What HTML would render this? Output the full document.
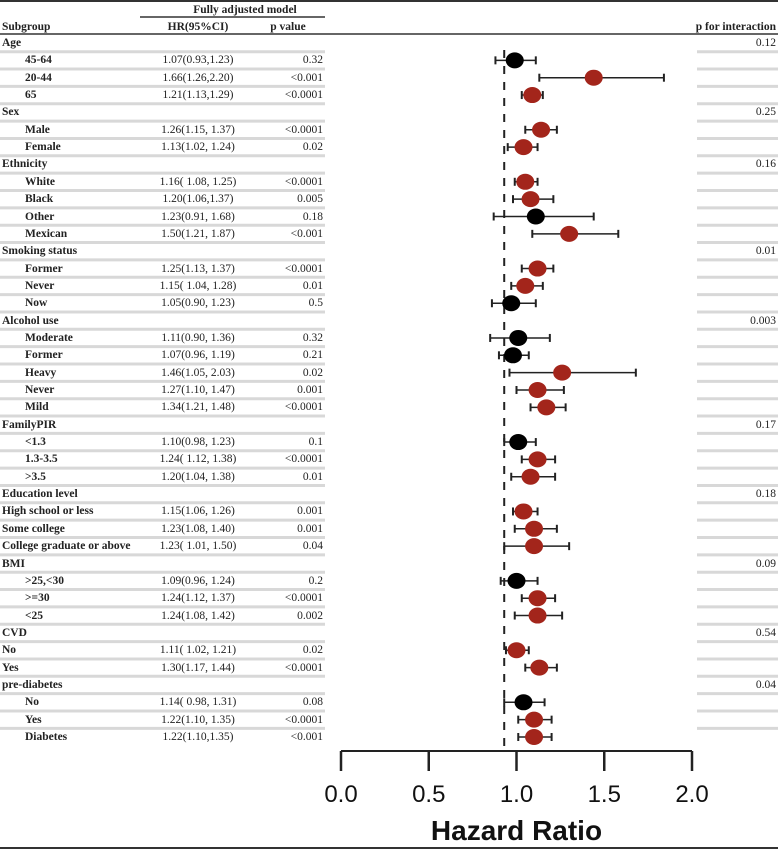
<!DOCTYPE html>
<html><head><meta charset="utf-8">
<style>
html,body{margin:0;padding:0;background:#fff;}
#root{position:relative;width:778px;height:850px;overflow:hidden;font-family:"Liberation Serif",serif;color:#222;}
.t{position:absolute;font-size:11.5px;white-space:nowrap;line-height:14px;}
.b{font-weight:bold;}
</style></head>
<body>
<div id="root">
<svg id="svg" width="778" height="850" style="position:absolute;left:0;top:0"></svg>
</div>
<script>
// ---- data ----
const labels = ["Age","45-64","20-44","65","Sex","Male","Female","Ethnicity","White","Black","Other","Mexican","Smoking status","Former","Never","Now","Alcohol use","Moderate","Former","Heavy","Never","Mild","FamilyPIR","<1.3","1.3-3.5",">3.5","Education level","High school or less","Some college","College graduate or above","BMI",">25,<30",">=30","<25","CVD","No","Yes","pre-diabetes","No","Yes","Diabetes"];
const isHeader = [1,0,0,0,1,0,0,1,0,0,0,0,1,0,0,0,1,0,0,0,0,0,1,0,0,0,1,0,0,0,1,0,0,0,1,0,0,1,0,0,0];
const indent = [0,1,1,1,0,1,1,0,1,1,1,1,0,1,1,1,0,1,1,1,1,1,0,1,1,1,0,0,0,0,0,1,1,1,0,0,0,0,1,1,1];
const hrText = ["","1.07(0.93,1.23)","1.66(1.26,2.20)","1.21(1.13,1.29)","","1.26(1.15, 1.37)","1.13(1.02, 1.24)","","1.16( 1.08, 1.25)","1.20(1.06,1.37)","1.23(0.91, 1.68)","1.50(1.21, 1.87)","","1.25(1.13, 1.37)","1.15( 1.04, 1.28)","1.05(0.90, 1.23)","","1.11(0.90, 1.36)","1.07(0.96, 1.19)","1.46(1.05, 2.03)","1.27(1.10, 1.47)","1.34(1.21, 1.48)","","1.10(0.98, 1.23)","1.24( 1.12, 1.38)","1.20(1.04, 1.38)","","1.15(1.06, 1.26)","1.23(1.08, 1.40)","1.23( 1.01, 1.50)","","1.09(0.96, 1.24)","1.24(1.12, 1.37)","1.24(1.08, 1.42)","","1.11( 1.02, 1.21)","1.30(1.17, 1.44)","","1.14( 0.98, 1.31)","1.22(1.10, 1.35)","1.22(1.10,1.35)"];
const pText = ["","0.32","<0.001","<0.0001","","<0.0001","0.02","","<0.0001","0.005","0.18","<0.001","","<0.0001","0.01","0.5","","0.32","0.21","0.02","0.001","<0.0001","","0.1","<0.0001","0.01","","0.001","0.001","0.04","","0.2","<0.0001","0.002","","0.02","<0.0001","","0.08","<0.0001","<0.001"];
const pInter = ["0.12","","","","0.25","","","0.16","","","","","0.01","","","","0.003","","","","","","0.17","","","","0.18","","","","0.09","","","","0.54","","","0.04","","",""];
const est = [null,0.99,1.44,1.09,null,1.14,1.04,null,1.05,1.08,1.11,1.30,null,1.12,1.05,0.97,null,1.01,0.98,1.26,1.12,1.17,null,1.01,1.12,1.08,null,1.04,1.10,1.10,null,1.00,1.12,1.12,null,1.00,1.13,null,1.04,1.10,1.10];
const lo = [null,0.88,1.13,1.03,null,1.05,0.95,null,0.99,0.98,0.87,1.09,null,1.03,0.97,0.86,null,0.85,0.90,0.96,1.00,1.08,null,0.93,1.03,0.97,null,0.98,0.99,0.93,null,0.91,1.03,0.99,null,0.94,1.05,null,0.93,1.01,1.01];
const hi = [null,1.11,1.84,1.15,null,1.23,1.12,null,1.12,1.21,1.44,1.58,null,1.21,1.15,1.11,null,1.19,1.07,1.68,1.27,1.28,null,1.11,1.22,1.22,null,1.12,1.23,1.30,null,1.12,1.22,1.26,null,1.07,1.23,null,1.16,1.20,1.20];
const black = [0,1,0,0,0,0,0,0,0,0,1,0,0,0,0,1,0,1,1,0,0,0,0,1,0,0,0,0,0,0,0,1,0,0,0,0,0,0,1,0,0];
const ticks = [0,0.5,1.0,1.5,2.0];
const tickLabels = ["0.0","0.5","1.0","1.5","2.0"];
const refValue = 0.93;

// ---- scales ----
const X0=341, X1=692, VMAX=2;
const xs = v => X0 + (v/VMAX)*(X1-X0);
const rowY = i => 43 + i*17.35;
const NS="http://www.w3.org/2000/svg";
const svg=document.getElementById('svg');
const root=document.getElementById('root');
function sv(tag,attrs){const e=document.createElementNS(NS,tag);for(const k in attrs)e.setAttribute(k,attrs[k]);svg.appendChild(e);return e;}
function tx(str,x,y,cls,align){const d=document.createElement('div');d.className='t '+(cls||'');d.textContent=str;
 if(align==='right'){d.style.right=(778-x)+'px';}else if(align==='center'){d.style.left=(x-100)+'px';d.style.width='200px';d.style.textAlign='center';}else d.style.left=x+'px';
 d.style.top=(y-7)+'px';root.appendChild(d);return d;}

// frame lines
let l;
l=sv('line',{x1:0,y1:1,x2:778,y2:1,stroke:'#333','stroke-width':2});


l=sv('line',{x1:140,y1:17,x2:325,y2:17,stroke:'#333','stroke-width':1.5});


l=sv('line',{x1:0,y1:34,x2:778,y2:34,stroke:'#333','stroke-width':1.5});


l=sv('line',{x1:0,y1:848,x2:778,y2:848,stroke:'#333','stroke-width':2});



let h;
h=tx('Fully adjusted model',245,10,'b','center');


h=tx('Subgroup',2,27,'b');


h=tx('HR(95%CI)',198,27,'b','center');


h=tx('p value',288,27,'b','center');


h=tx('p for interaction',776,27,'b','right');



// separators
for(let i=0;i<labels.length-1;i++){
 const y=rowY(i)+8.7;
 let s=sv('line',{x1:0,y1:y,x2:325,y2:y,stroke:'#d8d8d8','stroke-width':3});
 
 
 s=sv('line',{x1:697,y1:y,x2:778,y2:y,stroke:'#d8d8d8','stroke-width':3});
 
 
}

// reference line
l=sv('line',{x1:xs(refValue),y1:50,x2:xs(refValue),y2:750,stroke:'#222','stroke-width':2,'stroke-dasharray':'8,8'});



// rows
for(let i=0;i<labels.length;i++){
 const y=rowY(i);
 let d=tx(labels[i], indent[i]?25:2, y, 'b');
 
 
 if(hrText[i]){d=tx(hrText[i],198,y,'','center');
  
  }
 if(pText[i]){d=tx(pText[i],323,y,'','right');
  
  }
 if(pInter[i]){d=tx(pInter[i],776,y,'','right');
  
  }
 if(est[i]!==null){
  const a=xs(lo[i]),b=xs(hi[i]);
  let e=sv('line',{x1:a,y1:y,x2:b,y2:y,stroke:'#222','stroke-width':1.5});
  
  
  e=sv('line',{x1:a,y1:y-4,x2:a,y2:y+4,stroke:'#222','stroke-width':2});
  
  
  e=sv('line',{x1:b,y1:y-4,x2:b,y2:y+4,stroke:'#222','stroke-width':2});
  
  
  e=sv('ellipse',{cx:xs(est[i]),cy:y,rx:9,ry:8,fill:black[i]?'#000':'#a3251b'});
  
  
 }
}

// axis
l=sv('line',{x1:X0,y1:751,x2:X1,y2:751,stroke:'#222','stroke-width':2});


ticks.forEach((t,k)=>{
 let e=sv('line',{x1:xs(t),y1:751,x2:xs(t),y2:771,stroke:'#222','stroke-width':2.5});
 
 
 e=sv('text',{x:xs(t),y:802,'text-anchor':'middle','font-family':'Liberation Sans, sans-serif','font-size':24,fill:'#111'});
 e.textContent=tickLabels[k];
 
 
});
l=sv('text',{x:xs(1),y:840,'text-anchor':'middle','font-family':'Liberation Sans, sans-serif','font-size':28,'font-weight':'bold',fill:'#111'});
l.textContent='Hazard Ratio';


</script>
</body></html>
